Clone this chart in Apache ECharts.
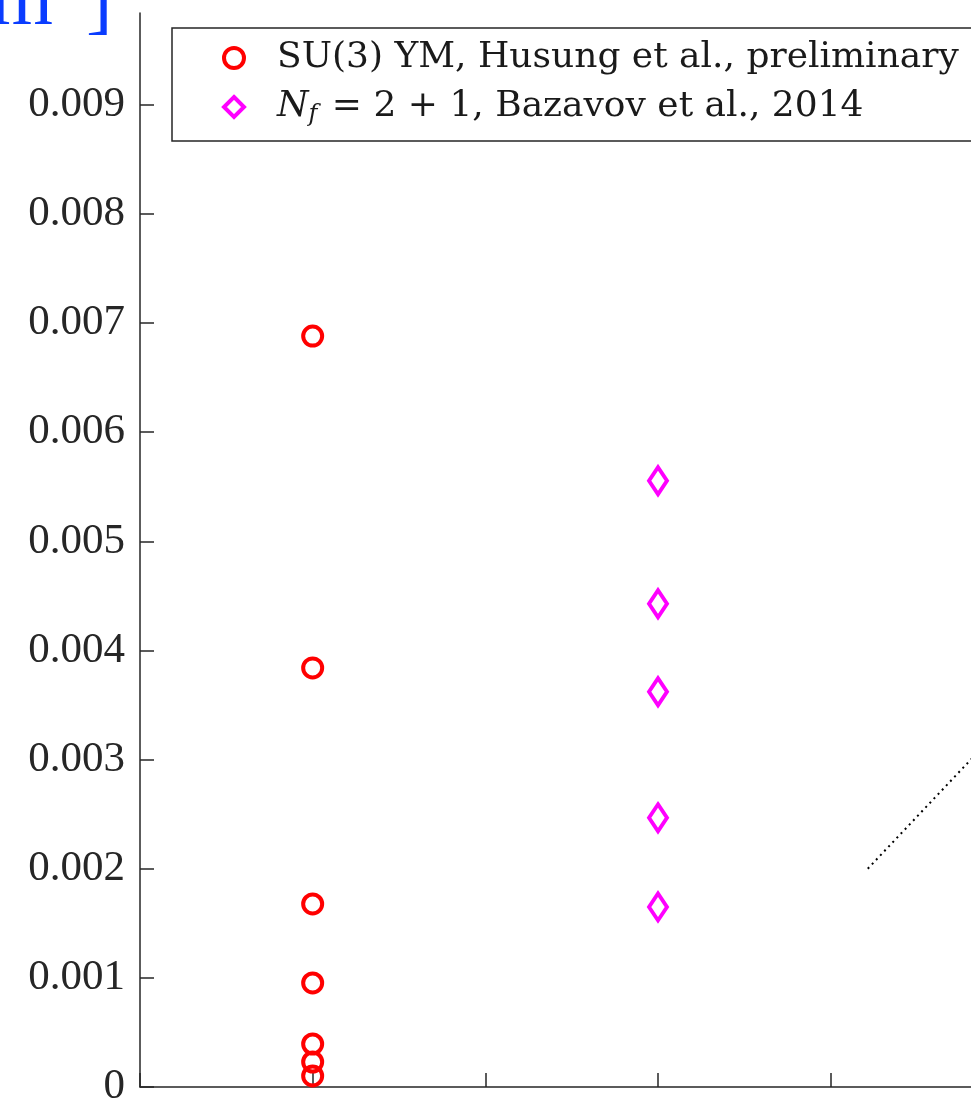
<!DOCTYPE html>
<html>
<head>
<meta charset="utf-8">
<script src="https://cdn.jsdelivr.net/npm/echarts@6/dist/echarts.min.js"></script>
<style>
  html, body { margin: 0; padding: 0; background: #fff; }
  #main { width: 971px; height: 1098px; }
</style>
</head>
<body>
<div id="main"></div>
<script>
// data
var ymX = 1;
var ymValues = [0.00688, 0.00384, 0.001677, 0.000953, 0.000394, 0.000229, 0.000101];
var bazX = 3;
var bazValues = [0.005555, 0.004427, 0.003621, 0.002466, 0.00165];
var dottedLine = [[4.215, 0.002], [5.6, 0.00432]];
var yTicks = [0, 0.001, 0.002, 0.003, 0.004, 0.005, 0.006, 0.007, 0.008, 0.009];
var legendNames = ['SU(3) YM, Husung et al., preliminary', 'Nf = 2 + 1, Bazavov et al., 2014'];

var serif = '"DejaVu Serif", "Liberation Serif", serif';
var tserif = '"Liberation Serif", serif';
var chart = echarts.init(document.getElementById('main'));

chart.setOption({
  animation: false,
  backgroundColor: '#fff',
  grid: { left: 140, top: 13, width: 1036, height: 1074, outerBoundsMode: 'none', containLabel: false },
  xAxis: {
    type: 'value', min: 0, max: 6, interval: 1,
    axisLine: { show: true, lineStyle: { color: '#262626', width: 1.5 } },
    axisTick: { show: true, inside: true, length: 14, lineStyle: { color: '#262626', width: 1.5 } },
    axisLabel: { show: false },
    splitLine: { show: false }
  },
  yAxis: {
    type: 'value', min: 0, max: 0.00984,
    axisLine: { show: true, lineStyle: { color: '#262626', width: 1.5 } },
    axisTick: { show: true, inside: true, length: 14, customValues: yTicks, lineStyle: { color: '#262626', width: 1.5 } },
    axisLabel: {
      customValues: yTicks, margin: 15, fontFamily: tserif, fontSize: 43, color: '#262626',
      formatter: function (v) { return v === 0 ? '0' : v.toFixed(3); }
    },
    splitLine: { show: false }
  },
  legend: {
    orient: 'vertical', left: 172, top: 28,
    padding: [12, 400, 14, 50],
    itemGap: 11, itemWidth: 20, itemHeight: 20,
    itemStyle: { borderWidth: 4 },
    borderColor: '#262626', borderWidth: 1.5,
    backgroundColor: '#fff',
    data: legendNames,
    formatter: function (name) {
      if (name === legendNames[1]) return '{i|N}{s|f}{t| = 2 + 1, Bazavov et al., 2014}';
      return '{t|' + name + '}';
    },
    textStyle: {
      padding: [0, 0, 0, 28],
      rich: {
        t: { fontFamily: serif, fontSize: 36, lineHeight: 40, color: '#1a1a1a' },
        i: { fontFamily: serif, fontSize: 36, lineHeight: 40, fontStyle: 'italic', color: '#1a1a1a' },
        s: { fontFamily: serif, fontSize: 24, lineHeight: 40, fontStyle: 'italic', color: '#1a1a1a', verticalAlign: 'bottom', padding: [16, 3, 0, 0] }
      }
    }
  },
  graphic: [
    { type: 'text', style: { x: 53, y: -37, text: '[fm', fill: '#0a3cff', font: '80px ' + tserif, textAlign: 'right' } },
    { type: 'text', style: { x: 86, y: -37, text: ']', fill: '#0a3cff', font: '80px ' + tserif, textAlign: 'left' } }
  ],
  series: [
    {
      name: legendNames[0], type: 'scatter', symbol: 'circle', symbolSize: 19,
      itemStyle: { color: 'rgba(255,255,255,0)', borderColor: '#ff0000', borderWidth: 4, opacity: 1 },
      data: ymValues.map(function (v) { return [ymX, v]; }), z: 3
    },
    {
      name: legendNames[1], type: 'scatter', symbol: 'diamond', symbolSize: [18, 27],
      itemStyle: { color: 'rgba(255,255,255,0)', borderColor: '#ff00ff', borderWidth: 4, opacity: 1 },
      data: bazValues.map(function (v) { return [bazX, v]; }), z: 3
    },
    {
      name: 'dotted', type: 'line', showSymbol: false, silent: true,
      lineStyle: { color: '#000', width: 2, type: [2, 4] },
      data: dottedLine
    }
  ]
});
</script>
</body>
</html>
